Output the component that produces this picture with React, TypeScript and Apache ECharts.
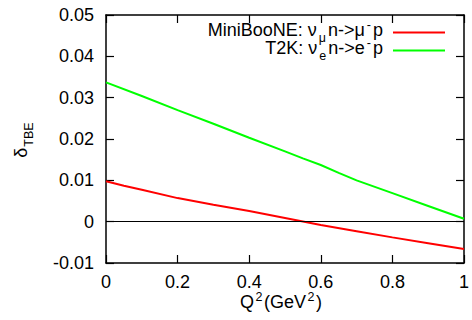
import React, { useEffect, useRef } from "react";
import * as echarts from "echarts";

const xTicks = [0, 0.2, 0.4, 0.6, 0.8, 1];
const yTicks = [-0.01, 0, 0.01, 0.02, 0.03, 0.04, 0.05];

const miniQ2 = [0, 0.05, 0.1, 0.2, 0.3, 0.4, 0.5, 0.6, 0.7, 0.8, 0.9, 1.0];
const miniDelta = [0.0098, 0.0087, 0.0077, 0.0057, 0.0041, 0.0026, 0.0009, -0.0008, -0.0023, -0.0038, -0.0052, -0.0066];

const t2kQ2 = [0, 0.1, 0.2, 0.3, 0.4, 0.5, 0.55, 0.6, 0.65, 0.7, 0.8, 0.9, 1.0];
const t2kDelta = [0.0337, 0.0304, 0.027, 0.0237, 0.0203, 0.017, 0.0153, 0.0137, 0.0118, 0.01, 0.0069, 0.0038, 0.0007];

const seriesNames = ["MiniBooNE", "T2K"];
const legendLine1 = [["MiniBooNE: ν", "b"], ["μ", "s"], ["n->μ", "b"], ["-", "p"], ["p", "b"]];
const legendLine2 = [["T2K: ν", "b"], ["e", "s"], ["n->e", "b"], ["-", "p"], ["p", "b"]];
const xTitle = [["Q", "b"], ["2", "p"], ["(GeV", "b"], ["2", "p"], [")", "b"]];
const yTitle = [["δ", "b"], ["TBE", "s"]];

const FONT = "'Liberation Sans', Arial, Helvetica, sans-serif";

let ctx: CanvasRenderingContext2D | null = null;
function measure(t: string, size: number) {
  if (!ctx) ctx = document.createElement("canvas").getContext("2d");
  if (!ctx) return t.length * size * 0.55;
  ctx.font = `${size}px ${FONT}`;
  return ctx.measureText(t).width;
}

// Build text pieces along a baseline (local coords). anchor: 'right' | 'center' | 'left'
function pieces(parts: string[][], x: number, y: number, anchor: string, baseSize: number, smallSize: number, gap: number) {
  const sizes = parts.map((p) => (p[1] === "b" ? baseSize : smallSize));
  const widths = parts.map((p, i) => measure(p[0], sizes[i]));
  const total = widths.reduce((a, b) => a + b, 0) + gap * (parts.length - 1);
  let cx = anchor === "right" ? x - total : anchor === "center" ? x - total / 2 : x;
  const out: any[] = [];
  parts.forEach((p, i) => {
    const dy = p[1] === "s" ? baseSize * 0.3 : p[1] === "p" ? -baseSize * 0.42 : 0;
    out.push({
      type: "text",
      x: cx,
      y: y + dy,
      z: 100,
      style: {
        text: p[0],
        fontSize: sizes[i],
        fontFamily: FONT,
        fill: "#000",
        align: "left",
        verticalAlign: "bottom",
      },
    });
    cx += widths[i] + gap;
  });
  return out;
}

export default function App() {
  const ref = useRef<HTMLDivElement>(null);
  useEffect(() => {
    if (!ref.current) return;
    const chart = echarts.init(ref.current, null, { renderer: "svg" });
    const pair = (xs: number[], ys: number[]) => xs.map((x, i) => [x, ys[i]]);
    const axisCommon = {
      axisLine: { show: true, onZero: false, lineStyle: { color: "#000", width: 1.5 } },
      axisTick: { show: true, inside: true, length: 8, lineStyle: { color: "#000", width: 1.2 } },
      splitLine: { show: false },
    };
    chart.setOption({
      animation: false,
      backgroundColor: "#fff",
      grid: { left: 106, right: 6, top: 15, bottom: 57, containLabel: false },
      xAxis: [
        {
          type: "value", min: 0, max: 1, interval: 0.2, position: "bottom",
          ...axisCommon,
          axisLabel: { fontSize: 18, fontFamily: FONT, color: "#000", margin: 10,
            formatter: (v: number) => {
              const r = Math.round(v * 10) / 10;
              return xTicks.includes(r) ? String(r) : "";
            } },
        },
        {
          type: "value", min: 0, max: 1, interval: 0.2, position: "top",
          ...axisCommon, axisLabel: { show: false },
        },
      ],
      yAxis: [
        {
          type: "value", min: -0.01, max: 0.05, interval: 0.01, position: "left",
          ...axisCommon,
          axisLabel: { fontSize: 18, fontFamily: FONT, color: "#000", margin: 12,
            formatter: (v: number) => {
              const r = Math.round(v * 100) / 100;
              return yTicks.includes(r) ? String(r) : "";
            } },
        },
        {
          type: "value", min: -0.01, max: 0.05, interval: 0.01, position: "right",
          ...axisCommon, axisLabel: { show: false },
        },
      ],
      series: [
        {
          name: seriesNames[0], type: "line", data: pair(miniQ2, miniDelta),
          showSymbol: false, symbol: "none", smooth: false,
          lineStyle: { color: "#ff0000", width: 2 },
          markLine: {
            silent: true, symbol: "none", label: { show: false },
            lineStyle: { color: "#000", width: 1, type: "solid" },
            data: [{ yAxis: 0 }],
          },
        },
        {
          name: seriesNames[1], type: "line", data: pair(t2kQ2, t2kDelta),
          showSymbol: false, symbol: "none",
          lineStyle: { color: "#00ff00", width: 2 },
        },
      ],
      graphic: [
        ...pieces(legendLine1, 383, 39, "right", 18, 12.5, 2),
        ...pieces(legendLine2, 383, 57, "right", 18, 12.5, 2),
        { type: "line", z: 100, shape: { x1: 393, y1: 32.5, x2: 445, y2: 32.5 }, style: { stroke: "#ff0000", lineWidth: 2 } },
        { type: "line", z: 100, shape: { x1: 393, y1: 50.5, x2: 445, y2: 50.5 }, style: { stroke: "#00ff00", lineWidth: 2 } },
        ...pieces(xTitle, 281, 311, "center", 18, 12.5, 1.5),
        {
          type: "group", x: 30, y: 140, rotation: Math.PI / 2,
          children: pieces(yTitle, 0, 0, "center", 18, 12.5, 1),
        },
      ],
    });
    return () => chart.dispose();
  }, []);
  return <div ref={ref} style={{ width: 472, height: 320, position: "absolute", left: 0, top: 0 }} />;
}
